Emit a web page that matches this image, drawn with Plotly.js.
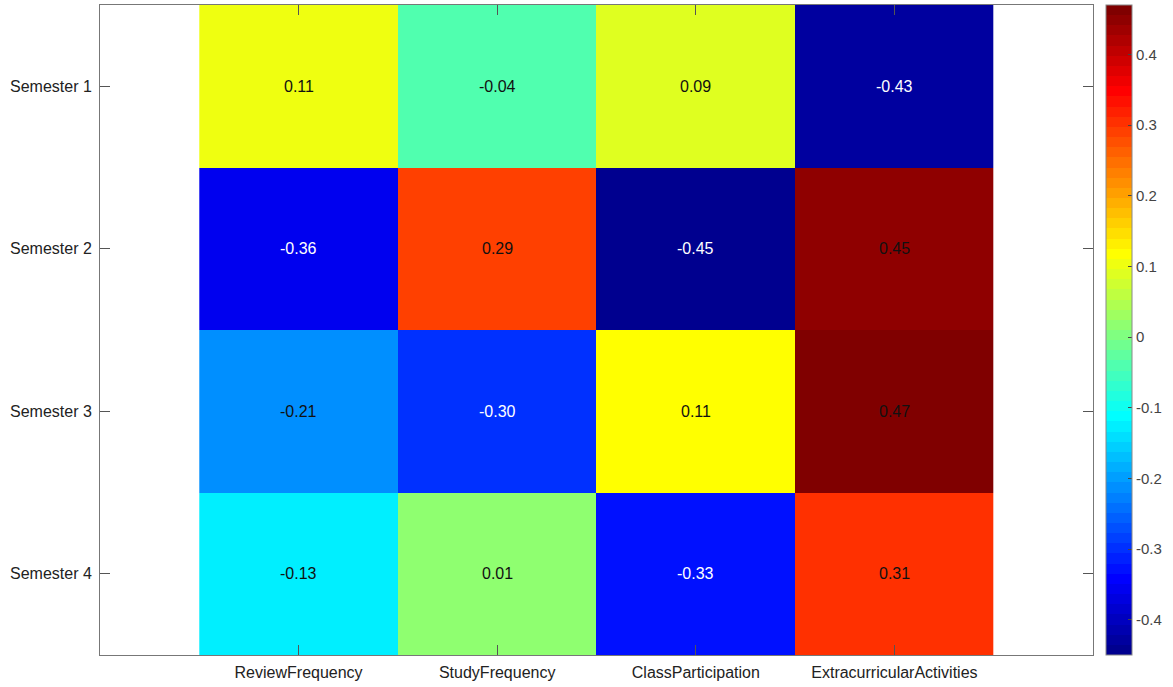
<!DOCTYPE html>
<html>
<head>
<meta charset="utf-8">
<script src="https://cdn.plot.ly/plotly-3.0.1.min.js"></script>
<style>html,body{margin:0;padding:0;background:#fff;}#chart{width:1173px;height:687px;}</style>
</head>
<body>
<div id="chart"></div>
<script>
var features = ["ReviewFrequency", "StudyFrequency", "ClassParticipation", "ExtracurricularActivities"];
var semesters = ["Semester 1", "Semester 2", "Semester 3", "Semester 4"];
var sem1 = [0.108, -0.04, 0.09, -0.43];
var sem2 = [-0.36, 0.29, -0.45, 0.45];
var sem3 = [-0.21, -0.30, 0.113, 0.47];
var sem4 = [-0.13, 0.01, -0.33, 0.31];
var colorbarTicks = [-0.4, -0.3, -0.2, -0.1, 0, 0.1, 0.2, 0.3, 0.4];

var z = [sem1, sem2, sem3, sem4];
var xIdx = features.map(function(_, i){ return i + 1; });
var yIdx = semesters.map(function(_, i){ return i + 1; });

// MATLAB-style jet(64) as a stepped colorscale
function jetColors(m) {
  var n = Math.ceil(m / 4);
  var u = [];
  for (var k = 1; k <= n; k++) u.push(k / n);
  for (var k2 = 1; k2 < n; k2++) u.push(1);
  for (var k3 = n; k3 >= 1; k3--) u.push(k3 / n);
  var off = Math.ceil(n / 2) - (m % 4 === 1 ? 1 : 0);
  var J = [];
  for (var i = 0; i < m; i++) J.push([0, 0, 0]);
  for (var j = 0; j < u.length; j++) {
    var g = off + j + 1, r = g + n, b = g - n;
    if (r >= 1 && r <= m) J[r - 1][0] = u[j];
    if (g >= 1 && g <= m) J[g - 1][1] = u[j];
    if (b >= 1 && b <= m) J[b - 1][2] = u[j];
  }
  return J;
}
var J = jetColors(64);
var jet = [];
J.forEach(function(c, i){
  var col = 'rgb(' + Math.round(c[0]*255) + ',' + Math.round(c[1]*255) + ',' + Math.round(c[2]*255) + ')';
  jet.push([i / 64, col]);
  jet.push([(i + 1) / 64 - (i < 63 ? 1e-6 : 0), col]);
});

var fontFam = 'Liberation Sans, Arial, sans-serif';
var annotations = [];
z.forEach(function(row, r){
  row.forEach(function(v, c){
    annotations.push({
      x: xIdx[c], y: yIdx[r], xref: 'x', yref: 'y',
      text: v.toFixed(2), showarrow: false,
      font: {family: fontFam, size: 16, color: v < -0.25 ? '#ffffff' : '#111111'}
    });
  });
});

var trace = {
  type: 'heatmap',
  x: xIdx, y: yIdx, z: z,
  zmin: -0.45, zmax: 0.47,
  colorscale: jet,
  hoverinfo: 'skip',
  colorbar: {
    x: 1.013, xanchor: 'left', xpad: 0,
    y: 0.5, yanchor: 'middle', len: 1, lenmode: 'fraction', ypad: 0,
    thickness: 26, outlinewidth: 1, outlinecolor: '#888',
    tickvals: colorbarTicks, ticktext: colorbarTicks.map(String),
    ticks: 'inside', ticklen: 4, tickcolor: '#444',
    tickfont: {family: fontFam, size: 15, color: '#444'}
  }
};

var layout = {
  width: 1173, height: 687,
  margin: {l: 100, r: 80, t: 5, b: 32},
  paper_bgcolor: '#ffffff', plot_bgcolor: '#ffffff',
  font: {family: fontFam, size: 16, color: '#222'},
  xaxis: {
    range: [0, 5], tickvals: xIdx, ticktext: features,
    ticks: 'inside', ticklen: 10, tickcolor: '#555', tickwidth: 1,
    showline: true, linecolor: '#777', linewidth: 1, mirror: 'ticks',
    showgrid: false, zeroline: false, ticklabelstandoff: 3,
    tickfont: {family: fontFam, size: 16, color: '#222'}
  },
  yaxis: {
    range: [4.5, 0.5], tickvals: yIdx, ticktext: semesters,
    ticks: 'inside', ticklen: 10, tickcolor: '#555', tickwidth: 1,
    showline: true, linecolor: '#777', linewidth: 1, mirror: 'ticks',
    showgrid: false, zeroline: false, ticklabelstandoff: 4,
    tickfont: {family: fontFam, size: 16, color: '#222'}
  },
  annotations: annotations
};

Plotly.newPlot('chart', [trace], layout, {displayModeBar: false, staticPlot: true});
</script>
</body>
</html>
